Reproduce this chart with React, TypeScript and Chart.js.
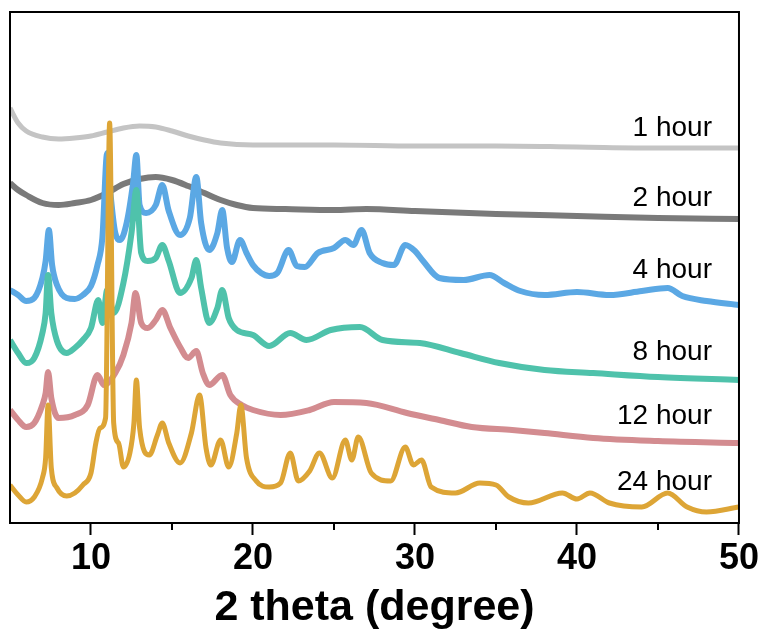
import React, { useEffect, useRef } from "react";
import { Chart, registerables } from "chart.js";

Chart.register(...registerables);

// XRD patterns (x: 2 theta in degrees, y: offset intensity, a.u.)
const hour1: number[][] = [
  [5, 415], [5.5, 400], [6, 392], [7, 386], [8, 384], [9, 385], [10, 387], [11, 391],
  [12, 395], [13, 397], [14, 396], [15, 392], [16, 387], [17, 383], [18, 380], [20, 378],
  [25, 378], [30, 377], [35, 377], [40, 376], [45, 375], [50, 375],
];

const hour2: number[][] = [
  [5, 340], [5.5, 333], [6, 328], [7, 320], [8, 318], [9, 320], [10, 323], [11, 330],
  [12, 339], [13, 344], [14, 346], [15, 343], [16, 337], [17, 330], [18, 323], [19, 318],
  [20, 315], [22, 314], [25, 313], [27, 314], [30, 312], [35, 309], [40, 307], [45, 305], [50, 304],
];

const hour4: number[][] = [
  [5, 233], [5.5, 228], [6, 222], [6.5, 225], [7, 245], [7.2, 262], [7.4, 293], [7.6, 258],
  [7.9, 238], [8.5, 225], [9, 224], [9.5, 228], [10, 237], [10.4, 258], [10.7, 285], [11, 370],
  [11.2, 330], [11.5, 290], [11.8, 283], [12.2, 300], [12.6, 340], [12.8, 368], [13, 318],
  [13.4, 310], [14, 318], [14.4, 338], [14.8, 312], [15.5, 288], [16.1, 305], [16.5, 346],
  [16.8, 300], [17.3, 273], [17.8, 290], [18.1, 313], [18.4, 275], [18.7, 261], [19.2, 283],
  [19.6, 270], [20, 258], [20.5, 250], [21, 247], [21.5, 250], [22.2, 273], [22.7, 257],
  [23.2, 256], [24, 270], [25, 275], [25.7, 283], [26.2, 278], [26.7, 293], [27.2, 270],
  [28, 260], [28.7, 258], [29.4, 278], [30, 272], [30.5, 262], [31.5, 245], [33, 243],
  [34.6, 248], [35.5, 240], [36.5, 232], [38, 228], [40, 231], [42, 228], [44, 232],
  [45.6, 235], [46.5, 227], [48, 222], [50, 218],
];

const hour8: number[][] = [
  [5, 183], [5.5, 170], [6, 160], [6.5, 165], [7, 190], [7.2, 210], [7.35, 248], [7.55, 210],
  [7.9, 182], [8.5, 170], [9, 175], [9.5, 183], [10, 195], [10.45, 223], [10.7, 200], [11, 233],
  [11.4, 210], [12, 240], [12.5, 290], [12.8, 333], [13.1, 270], [13.5, 262], [14, 265],
  [14.4, 278], [14.8, 262], [15.5, 230], [16.2, 245], [16.5, 263], [16.8, 235], [17.3, 200],
  [17.8, 215], [18.1, 233], [18.5, 205], [19, 193], [20, 188], [21, 177], [22.3, 190],
  [23.3, 183], [24.8, 193], [26.6, 196], [28, 183], [30.3, 180], [32.8, 170], [35.2, 160],
  [38, 153], [41, 150], [45, 146], [50, 143],
];

const hour12: number[][] = [
  [5, 113], [5.5, 103], [6, 96], [6.5, 100], [7, 118], [7.2, 130], [7.35, 151], [7.55, 125],
  [8, 105], [9, 108], [9.8, 118], [10.4, 148], [10.8, 138], [11.5, 150], [12, 168], [12.5, 200],
  [12.75, 230], [13.1, 200], [13.5, 195], [14, 203], [14.4, 213], [14.9, 195], [15.5, 176],
  [16, 165], [16.5, 172], [16.9, 150], [17.3, 138], [18.1, 148], [18.6, 128], [19.3, 118],
  [20, 113], [21.7, 108], [23.5, 113], [25, 121], [27, 120], [29.5, 110], [31.5, 103],
  [33.5, 96], [36, 93], [38, 90], [41, 85], [45, 82], [50, 80],
];

const hour24: number[][] = [
  [5, 38], [5.5, 28], [6, 21], [6.5, 26], [7, 45], [7.2, 65], [7.35, 118], [7.55, 55],
  [7.9, 35], [8.5, 27], [9, 30], [9.5, 38], [10, 50], [10.3, 80], [10.55, 95], [10.9, 105],
  [11.15, 400], [11.4, 100], [11.7, 80], [12, 56], [12.4, 70], [12.65, 100], [12.8, 143],
  [13.0, 95], [13.6, 68], [14.1, 88], [14.4, 100], [14.8, 80], [15.5, 60], [16.2, 90],
  [16.7, 128], [17.1, 75], [17.4, 58], [18, 83], [18.5, 56], [19.0, 90], [19.25, 118],
  [19.6, 65], [20.2, 42], [21, 36], [21.7, 40], [22.3, 70], [22.8, 42], [23.5, 52],
  [24.1, 70], [24.9, 45], [25.7, 83], [26.1, 63], [26.5, 86], [27.3, 50], [28.5, 42],
  [29.4, 76], [29.9, 58], [30.4, 63], [31, 36], [32.5, 30], [34, 40], [35, 38], [35.8, 26],
  [37, 20], [39.1, 30], [40, 24], [40.8, 30], [42, 20], [44, 16], [45.6, 30], [46.8, 16],
  [48, 11], [50, 16],
];

const seriesNames = ["1 hour", "2 hour", "4 hour", "8 hour", "12 hour", "24 hour"];
const seriesData = [hour1, hour2, hour4, hour8, hour12, hour24];
const seriesColors = ["#c4c4c4", "#7a7a7a", "#5ba8e4", "#4fc2ab", "#d38c90", "#dda536"];
const seriesWidths = [5, 6, 6, 6, 6, 5];
const labelLevels = [395, 325, 253, 171, 107, 41];

const majorTicks = [10, 20, 30, 40, 50];
const minorTicks = [15, 25, 35, 45];

const framePlugin = {
  id: "frame",
  afterDatasetsDraw(chart: any) {
    const { ctx, chartArea } = chart;
    const xs = chart.scales.x;
    const ys = chart.scales.y;
    ctx.save();
    // series labels
    ctx.fillStyle = "#000";
    ctx.font = "28px 'Liberation Sans', Arial, sans-serif";
    ctx.textAlign = "right";
    ctx.textBaseline = "middle";
    seriesNames.forEach((name, i) => {
      ctx.fillText(name, chartArea.right - 27, ys.getPixelForValue(labelLevels[i]));
    });
    // frame
    ctx.strokeStyle = "#000";
    ctx.lineWidth = 2;
    ctx.strokeRect(chartArea.left, chartArea.top, chartArea.right - chartArea.left, chartArea.bottom - chartArea.top);
    // minor ticks
    minorTicks.forEach((v) => {
      const px = Math.round(xs.getPixelForValue(v));
      ctx.beginPath();
      ctx.moveTo(px, chartArea.bottom);
      ctx.lineTo(px, chartArea.bottom + 7);
      ctx.stroke();
    });
    ctx.restore();
  },
};

export default function App() {
  const ref = useRef<HTMLCanvasElement | null>(null);
  useEffect(() => {
    document.body.style.margin = "0";
    const canvas = ref.current;
    if (!canvas) return;
    const chart = new Chart(canvas, {
      type: "line",
      data: {
        datasets: seriesData.map((d, i) => ({
          label: seriesNames[i],
          data: d.map((p) => ({ x: p[0], y: p[1] })),
          borderColor: seriesColors[i],
          backgroundColor: seriesColors[i],
          borderWidth: seriesWidths[i],
          pointRadius: 0,
          cubicInterpolationMode: "monotone" as const,
          borderJoinStyle: "round" as const,
          order: seriesData.length - i,
        })),
      },
      options: {
        responsive: false,
        animation: false,
        events: [],
        layout: { padding: { left: 10, right: 26, top: 12, bottom: 0 } },
        plugins: { legend: { display: false }, tooltip: { enabled: false } },
        scales: {
          x: {
            type: "linear",
            min: 5,
            max: 50,
            afterBuildTicks: (scale: any) => {
              scale.ticks = majorTicks.map((v) => ({ value: v }));
            },
            afterFit: (scale: any) => {
              scale.height = 107;
            },
            grid: {
              display: true,
              drawOnChartArea: false,
              drawTicks: true,
              tickLength: 12,
              tickColor: "#000",
              tickWidth: 2,
            },
            border: { display: true, color: "#000", width: 2 },
            ticks: {
              color: "#000",
              padding: 6,
              maxRotation: 0,
              font: { family: "'Liberation Sans', Arial, sans-serif", size: 36, weight: "bold", lineHeight: 1 },
            },
            title: {
              display: true,
              text: "2 theta (degree)",
              color: "#000",
              padding: { top: 0, bottom: 0 },
              font: { family: "'Liberation Sans', Arial, sans-serif", size: 43, weight: "bold", lineHeight: 1 },
            },
          },
          y: {
            type: "linear",
            min: 0,
            max: 511,
            display: false,
          },
        },
      },
      plugins: [framePlugin],
    });
    return () => chart.destroy();
  }, []);
  return <canvas ref={ref} width={765} height={630} style={{ display: "block" }} />;
}
